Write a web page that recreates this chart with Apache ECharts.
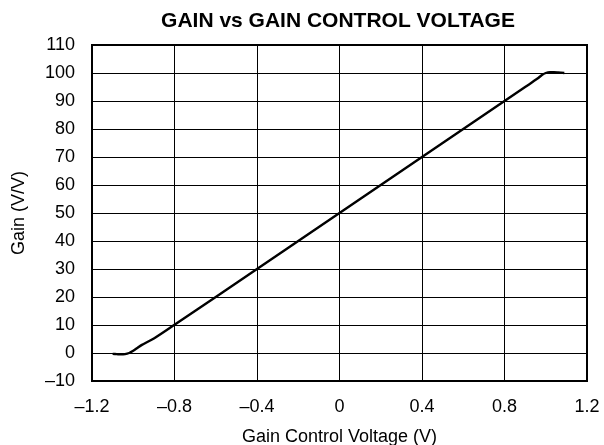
<!DOCTYPE html>
<html>
<head>
<meta charset="utf-8">
<script src="https://cdn.jsdelivr.net/npm/echarts@6/dist/echarts.min.js"></script>
<style>
  html, body { margin: 0; padding: 0; background: #fff; }
  #chart { width: 604px; height: 445px; }
</style>
</head>
<body>
<div id="chart"></div>
<script>
// Control voltage (V) and resulting gain (V/V)
const voltage = [-1.1, -1.08, -1.06, -1.04, -1.02, -1.0, -0.98, -0.96, -0.9, -0.8, -0.4, 0, 0.4, 0.8, 0.9, 0.96, 0.98, 1.0, 1.02, 1.04, 1.06, 1.09];
const gain    = [-0.3, -0.4, -0.5, -0.4, 0, 0.8, 1.8, 2.8, 5.2, 10.1, 30, 50, 70, 90, 95, 98, 99.2, 100, 100.3, 100.3, 100.2, 100];

const xTicks = { min: -1.2, max: 1.2, step: 0.4 };
const yTicks = { min: -10, max: 110, step: 10 };

const FONT = '"Liberation Sans", Arial, sans-serif';
const dash = v => {
  const r = Math.round(v * 10) / 10;
  return (r < 0 ? '\u2013' : '') + String(Math.abs(r));
};

const chart = echarts.init(document.getElementById('chart'), null, { renderer: 'canvas' });
chart.setOption({
  animation: false,
  backgroundColor: '#fff',
  title: {
    text: 'GAIN vs GAIN CONTROL VOLTAGE',
    left: 333, top: 6, textAlign: 'center',
    textStyle: { fontFamily: FONT, fontSize: 21, fontWeight: 'bold', color: '#000' }
  },
  grid: {
    left: 92, right: 17, top: 45, bottom: 64,
    containLabel: false, outerBoundsMode: 'none',
    show: true, borderColor: '#000', borderWidth: 2, backgroundColor: 'transparent'
  },
  xAxis: {
    type: 'value',
    min: xTicks.min, max: xTicks.max, interval: xTicks.step,
    name: 'Gain Control Voltage (V)', nameLocation: 'middle', nameGap: 47,
    nameTextStyle: { fontFamily: FONT, fontSize: 18, color: '#000' },
    axisLine: { show: false }, axisTick: { show: false },
    axisLabel: { fontFamily: FONT, fontSize: 18, color: '#000', margin: 17, formatter: dash },
    splitLine: { show: true, lineStyle: { color: '#000', width: 1 } }
  },
  yAxis: {
    type: 'value',
    min: yTicks.min, max: yTicks.max, interval: yTicks.step,
    name: 'Gain (V/V)', nameLocation: 'middle', nameGap: 64, nameRotate: 90,
    nameTextStyle: { fontFamily: FONT, fontSize: 18, color: '#000' },
    axisLine: { show: false }, axisTick: { show: false },
    axisLabel: { fontFamily: FONT, fontSize: 18, color: '#000', margin: 17, formatter: v => dash(v) },
    splitLine: { show: true, lineStyle: { color: '#000', width: 1 } }
  },
  series: [{
    type: 'line',
    data: voltage.map((v, i) => [v, gain[i]]),
    showSymbol: false,
    smooth: 0.3,
    lineStyle: { color: '#000', width: 2.4 }
  }]
});
</script>
</body>
</html>
